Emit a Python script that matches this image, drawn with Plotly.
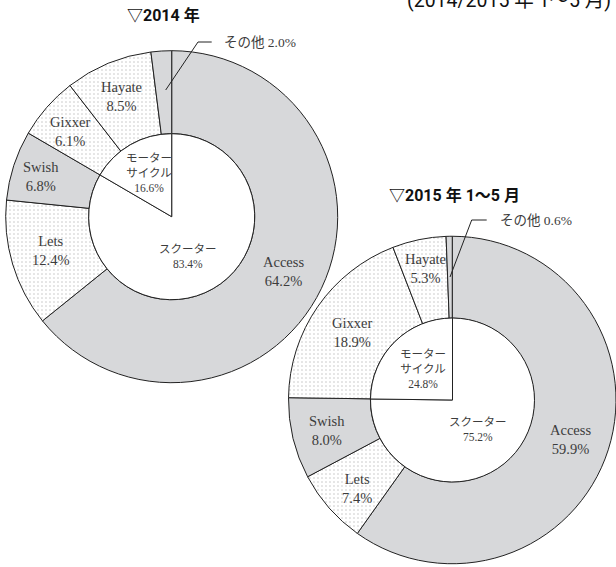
import plotly.graph_objects as go

W, H = 616, 567

# ---------------- data ----------------
models = ["Access", "Lets", "Swish", "Gixxer", "Hayate", "その他"]
share_2014 = [64.2, 12.4, 6.8, 6.1, 8.5, 2.0]
share_2015 = [59.9, 7.4, 8.0, 18.9, 5.3, 0.6]
types = ["スクーター", "モーターサイクル"]
type_2014 = [83.4, 16.6]
type_2015 = [75.2, 24.8]
titles = ["▽2014 年", "▽2015 年 1〜5 月"]
subtitle = "(2014/2015 年 1～5 月)"

GREY = "#d7d8da"
DOT_BG = "#ffffff"
shapes_pat = ["", ".", "", ".", ".", ""]
fills = [GREY, DOT_BG, GREY, DOT_BG, DOT_BG, GREY]

SERIF = "Liberation Serif, Noto Sans CJK JP, serif"
SANS = "Roboto, Noto Sans CJK JP, sans-serif"
TXT = "#3c3c3c"


def px(x):
    return x / W


def py(y):
    return 1 - y / H


def dom(cx, cy, r):
    x0, x1 = (cx - r) / W, (cx + r) / W
    y0, y1 = 1 - (cy + r) / H, 1 - (cy - r) / H
    return dict(x=[max(0, x0), min(1, x1)], y=[max(0, y0), min(1, y1)])


fig = go.Figure()

charts = [
    (share_2014, type_2014, (171.7, 216.7, 166)),
    (share_2015, type_2015, (452.5, 400, 164)),
]

for vals, tvals, (cx, cy, r) in charts:
    d = dom(cx, cy, r)
    fig.add_trace(go.Pie(
        labels=models, values=vals, sort=False, direction="clockwise",
        rotation=0, hole=0.5, textinfo="none", hoverinfo="skip",
        domain=d, showlegend=False,
        marker=dict(colors=fills, line=dict(color="#222222", width=1),
                    pattern=dict(shape=shapes_pat, fgcolor="#c4c4c4",
                                 bgcolor=DOT_BG, size=4, solidity=0.12)),
    ))
    fig.add_trace(go.Pie(
        labels=types, values=tvals, sort=False, direction="clockwise",
        rotation=0, textinfo="none", hoverinfo="skip",
        domain=dict(x=[(cx - r * 0.5) / W, (cx + r * 0.5) / W],
                    y=[1 - (cy + r * 0.5) / H, 1 - (cy - r * 0.5) / H]),
        showlegend=False,
        marker=dict(colors=["#ffffff", "#ffffff"],
                    line=dict(color="#222222", width=1)),
    ))

ann = []


def label(x, y, text, size=14.5, color=TXT, font=SERIF):
    ann.append(dict(x=px(x), y=py(y), xref="paper", yref="paper",
                    text=text, showarrow=False, xanchor="center",
                    yanchor="middle", align="center",
                    font=dict(family=font, size=size, color=color)))


# 2014 labels
label(121.7, 96, f"{models[4]}<br>{share_2014[4]:.1f}%")
label(70, 131.7, f"{models[3]}<br>{share_2014[3]:.1f}%")
label(40.7, 176.7, f"{models[2]}<br>{share_2014[2]:.1f}%")
label(50, 250, f"{models[1]}<br>{share_2014[1]:.1f}%")
label(283.3, 271.7, f"{models[0]}<br>{share_2014[0]:.1f}%")
label(149, 173, "モーター<br>サイクル<br>" + f"{type_2014[1]:.1f}%", size=11.5)
label(188.3, 256, f"{types[0]}<br>{type_2014[0]:.1f}%", size=11.5)

# 2015 labels
label(425, 268.3, f"{models[4]}<br>{share_2015[4]:.1f}%")
label(351.7, 332, f"{models[3]}<br>{share_2015[3]:.1f}%")
label(326.7, 430.3, f"{models[2]}<br>{share_2015[2]:.1f}%")
label(356.7, 488.3, f"{models[1]}<br>{share_2015[1]:.1f}%")
label(570, 439.7, f"{models[0]}<br>{share_2015[0]:.1f}%")
label(423.3, 369, "モーター<br>サイクル<br>" + f"{type_2015[1]:.1f}%", size=11.5)
label(477.5, 429, f"{types[0]}<br>{type_2015[0]:.1f}%", size=11.5)

# その他 callouts
for (tx, ty, v) in [(221.5, 42, share_2014[5]), (498, 220, share_2015[5])]:
    ann.append(dict(x=px(tx), y=py(ty), xref="paper", yref="paper",
                    text=f"{models[5]} {v:.1f}%", showarrow=False,
                    xanchor="left", yanchor="middle",
                    font=dict(family=SERIF, size=13.5, color=TXT)))

# titles
for (tx, ty, t) in [(163, 15, titles[0]), (454, 195, titles[1])]:
    ann.append(dict(x=px(tx), y=py(ty), xref="paper", yref="paper",
                    text=f"<b>{t}</b>", showarrow=False, xanchor="center",
                    yanchor="middle",
                    font=dict(family=SANS, size=16, color="#111111")))

# partially visible header at the top edge
ann.append(dict(x=px(405), y=py(14), xref="paper", yref="paper",
                text=subtitle, showarrow=False, xanchor="left",
                yanchor="bottom",
                font=dict(family=SANS, size=19.5, color="#111111")))

shapes = []
for pts in [[(165.7, 90), (198, 42), (211.7, 42)],
            [(450, 277), (471.7, 220), (486.7, 220)]]:
    for (a, b) in zip(pts[:-1], pts[1:]):
        shapes.append(dict(type="line", xref="paper", yref="paper",
                           x0=px(a[0]), y0=py(a[1]), x1=px(b[0]), y1=py(b[1]),
                           line=dict(color="#222222", width=1)))

fig.update_layout(
    width=W, height=H, margin=dict(l=0, r=0, t=0, b=0),
    paper_bgcolor="white", plot_bgcolor="white",
    annotations=ann, shapes=shapes, showlegend=False,
)

fig.write_html("out.html")
